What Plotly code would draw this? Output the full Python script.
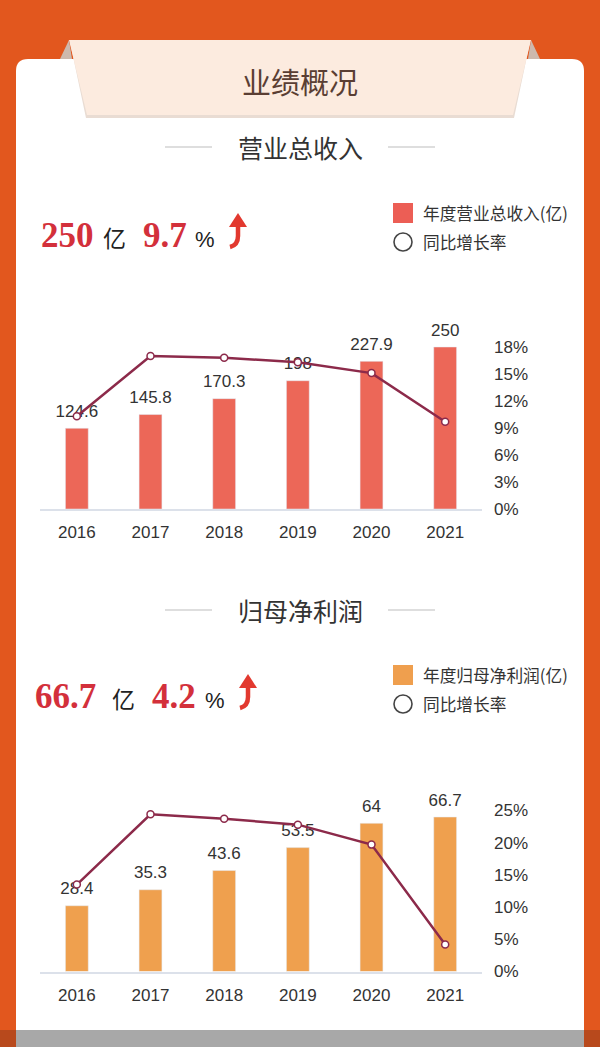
import plotly.graph_objects as go

# data
years = ["2016", "2017", "2018", "2019", "2020", "2021"]
revenue = [124.6, 145.8, 170.3, 198, 227.9, 250]
revenue_growth = [10.3, 17.0, 16.8, 16.3, 15.1, 9.7]
profit = [28.4, 35.3, 43.6, 53.5, 64, 66.7]
profit_growth = [13.5, 24.4, 23.7, 22.8, 19.7, 4.2]

W, H = 600, 1047
ORANGE = "#E2571E"
RED_TEXT = "#D3303B"
LINE_COLOR = "#8C2A4A"
CJK = "Noto Sans CJK SC"
SANS = "Liberation Sans, Arial, sans-serif"
SERIF = "Liberation Serif, Times New Roman, serif"


def px(x):
    return x / W


def py(y):
    return 1 - y / H


def path(points, close=True):
    s = "M " + " L ".join(f"{px(x):.5f},{py(y):.5f}" for x, y in points)
    return s + (" Z" if close else "")


fig = go.Figure()


def add_chart(values, growth, bar_color, xa, ya_bar, ya_line):
    fig.add_trace(go.Bar(
        x=years, y=values, xaxis=xa, yaxis=ya_bar,
        marker=dict(color=bar_color), width=0.31, showlegend=False,
    ))
    # value labels above bars, under the line (invisible markers push text up a bit)
    fig.add_trace(go.Scatter(
        x=years, y=values, xaxis=xa, yaxis=ya_bar, mode="markers+text",
        marker=dict(size=10, opacity=0),
        text=[str(v) for v in values], textposition="top center",
        textfont=dict(family=SANS, size=17, color="#333333"),
        cliponaxis=False, showlegend=False, hoverinfo="skip",
    ))
    fig.add_trace(go.Scatter(
        x=years, y=growth, xaxis=xa, yaxis=ya_line, mode="lines+markers",
        line=dict(color=LINE_COLOR, width=2.5),
        marker=dict(size=7, color="white", line=dict(color=LINE_COLOR, width=1.5)),
        cliponaxis=False, showlegend=False,
    ))


add_chart(revenue, revenue_growth, "#EC6758", "x", "y", "y2")
add_chart(profit, profit_growth, "#EFA04E", "x2", "y3", "y4")

xdom = [px(40), px(482)]
dom1 = [py(509), py(329)]
dom2 = [py(971.5), py(797.6)]

xcommon = dict(domain=xdom, showline=True, linecolor="#DCE1EA", linewidth=1.5,
               showgrid=False, ticks="", tickfont=dict(family=SANS, size=17, color="#333333"),
               ticklabelstandoff=7, fixedrange=True)
ycommon = dict(showgrid=False, zeroline=False, fixedrange=True)
rcommon = dict(side="right", showgrid=False, zeroline=False, ticks="", ticksuffix="%",
               tickfont=dict(family=SANS, size=17, color="#333333"),
               ticklabelstandoff=11, showline=False, fixedrange=True)

fig.update_layout(
    width=W, height=H, margin=dict(l=0, r=0, t=0, b=0, autoexpand=False),
    paper_bgcolor=ORANGE, plot_bgcolor="rgba(0,0,0,0)",
    xaxis=dict(anchor="y", **xcommon),
    yaxis=dict(domain=dom1, range=[0, 277.8], visible=False, **ycommon),
    yaxis2=dict(domain=dom1, overlaying="y", anchor="x", range=[0, 20], dtick=3, **rcommon),
    xaxis2=dict(anchor="y3", **xcommon),
    yaxis3=dict(domain=dom2, range=[0, 75.1], visible=False, **ycommon),
    yaxis4=dict(domain=dom2, overlaying="y3", anchor="x2", range=[0, 27], dtick=5, **rcommon),
)

shapes = []
# white card with rounded top corners
r = 12
card = (f"M {px(16+r)},{py(59)} L {px(584-r)},{py(59)} Q {px(584)},{py(59)} {px(584)},{py(59+r)} "
        f"L {px(584)},{py(1047)} L {px(16)},{py(1047)} L {px(16)},{py(59+r)} "
        f"Q {px(16)},{py(59)} {px(16+r)},{py(59)} Z")
shapes.append(dict(type="path", path=card, xref="paper", yref="paper",
                   fillcolor="white", line=dict(width=0), layer="below"))
# bottom gray strip and darker sides
shapes.append(dict(type="rect", xref="paper", yref="paper", x0=px(16), x1=px(584),
                   y0=py(1047), y1=py(1030), fillcolor="#A8A8A8", line=dict(width=0), layer="below"))
for x0, x1 in [(0, 16), (584, 600)]:
    shapes.append(dict(type="rect", xref="paper", yref="paper", x0=px(x0), x1=px(x1),
                       y0=py(1047), y1=py(1030), fillcolor="#B8491C", line=dict(width=0), layer="below"))
# header tab folds
shapes.append(dict(type="path", path=path([(60, 59), (69, 40), (72, 59)]), xref="paper", yref="paper",
                   fillcolor="#CDB9AD", line=dict(width=0), layer="below"))
shapes.append(dict(type="path", path=path([(540, 59), (531, 40), (528, 59)]), xref="paper", yref="paper",
                   fillcolor="#CDB9AD", line=dict(width=0), layer="below"))
# header tab shadow + tab
shapes.append(dict(type="path", path=path([(70, 42), (530, 42), (514, 118), (86, 118)]),
                   xref="paper", yref="paper", fillcolor="#E9DCD3", line=dict(width=0), layer="below"))
shapes.append(dict(type="path", path=path([(69, 40), (531, 40), (513, 115), (87, 115)]),
                   xref="paper", yref="paper", fillcolor="#FCEBDF", line=dict(width=0), layer="below"))

# section title side lines
for yy in (147, 610):
    for x0, x1 in [(165, 212), (388, 435)]:
        shapes.append(dict(type="line", xref="paper", yref="paper", x0=px(x0), x1=px(x1),
                           y0=py(yy), y1=py(yy), line=dict(color="#BDBDBD", width=1)))

# legends
for ly, color in [(213, "#EC5E55"), (675, "#EF9F4E")]:
    shapes.append(dict(type="rect", xref="paper", yref="paper", x0=px(393), x1=px(413),
                       y0=py(ly + 10), y1=py(ly - 10), fillcolor=color, line=dict(width=0)))
    shapes.append(dict(type="circle", xref="paper", yref="paper", x0=px(394), x1=px(412),
                       y0=py(ly + 38), y1=py(ly + 20), fillcolor="white",
                       line=dict(color="#444444", width=1.6)))

# curved up arrows
for ax, ay in [(238, 236), (248, 697)]:
    shapes.append(dict(type="path", xref="paper", yref="paper",
                       path=(f"M {px(ax-8)},{py(ay+11)} Q {px(ax)},{py(ay+9)} {px(ax)},{py(ay)} "
                             f"L {px(ax)},{py(ay-10)}"),
                       line=dict(color="#E2392F", width=4.5)))
    shapes.append(dict(type="path", xref="paper", yref="paper",
                       path=path([(ax, ay - 23), (ax - 9, ay - 9), (ax + 9, ay - 9)]),
                       fillcolor="#E2392F", line=dict(width=0)))

fig.update_layout(shapes=shapes)

ann = []


def text(x, y, s, size, color, family, xanchor="left", bold=False):
    ann.append(dict(x=px(x), y=py(y), xref="paper", yref="paper", text=f"<b>{s}</b>" if bold else s,
                    showarrow=False, xanchor=xanchor, yanchor="middle",
                    font=dict(size=size, color=color, family=family)))


text(300, 81, "业绩概况", 29, "#5A3E33", CJK, "center")
text(300, 147, "营业总收入", 25, "#333333", CJK, "center")
text(300, 610, "归母净利润", 25, "#333333", CJK, "center")

# headline numbers
text(39, 235, "250", 35, RED_TEXT, SERIF, bold=True)
text(101, 237, "亿", 23, "#222222", CJK)
text(141, 235, "9.7", 35, RED_TEXT, SERIF, bold=True)
text(193, 239, "%", 22, "#222222", SANS)
text(33, 696, "66.7", 35, RED_TEXT, SERIF, bold=True)
text(110, 698, "亿", 23, "#222222", CJK)
text(150, 696, "4.2", 35, RED_TEXT, SERIF, bold=True)
text(203, 700, "%", 22, "#222222", SANS)

# legend labels
text(421, 213, "年度营业总收入(亿)", 16.7, "#333333", CJK)
text(421, 242, "同比增长率", 16.7, "#333333", CJK)
text(421, 675, "年度归母净利润(亿)", 16.7, "#333333", CJK)
text(421, 704, "同比增长率", 16.7, "#333333", CJK)

fig.update_layout(annotations=ann)

fig.write_html("out.html", config={"displayModeBar": False},
               post_script="document.body.style.margin='0';")
